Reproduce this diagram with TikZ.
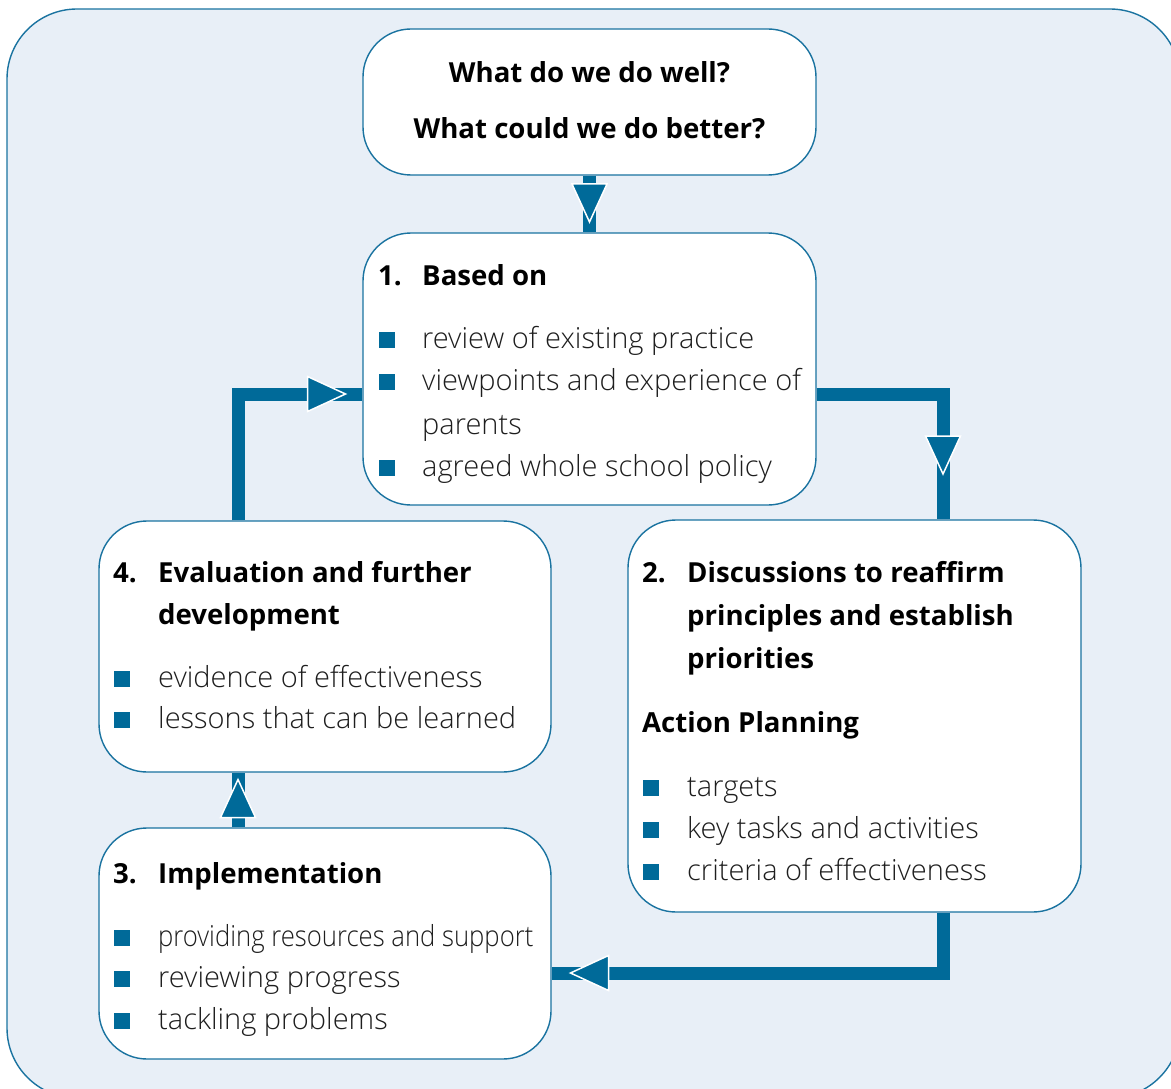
\documentclass[tikz,border=0pt]{standalone}
\usepackage{fontspec}
\setmainfont{Open Sans}
\newfontfamily\lightf{Open Sans Light}
\usetikzlibrary{calc}
\definecolor{dblue}{RGB}{0,106,153}
\definecolor{bgblue}{RGB}{232,239,247}
\definecolor{edgeblue}{RGB}{26,115,160}
\definecolor{txtgray}{RGB}{30,30,30}
\begin{document}
\begin{tikzpicture}[x=1pt,y=-1pt,
 outerbox/.style={draw=edgeblue, line width=1.4pt, fill=bgblue, rounded corners=70pt},
 box/.style={draw=edgeblue, line width=1.4pt, fill=white, rounded corners=48pt, inner sep=0},
 hd/.style={inner sep=0, anchor=base west, font=\fontsize{27.6}{34}\selectfont\bfseries},
 hdc/.style={inner sep=0, anchor=base, font=\fontsize{27.6}{34}\selectfont\bfseries},
 lt/.style={inner sep=0, anchor=base west, text=txtgray, font=\fontsize{29}{34}\selectfont\lightf},
 bul/.style={fill=dblue, minimum size=16.5pt, inner sep=0},
 conn/.style={draw=dblue, line width=13pt},
 tri/.style={fill=dblue, draw=white, line width=1.5pt, line join=miter},
 tdown/.pic={\path[tri] (-17.5,-19) -- (17.5,-19) -- (0,19) -- cycle;},
 tup/.pic={\path[tri] (-17.5,19) -- (17.5,19) -- (0,-19) -- cycle;},
 tright/.pic={\path[tri] (-19,-17.5) -- (-19,17.5) -- (19,0) -- cycle;},
 tleft/.pic={\path[tri] (19,-17.5) -- (19,17.5) -- (-19,0) -- cycle;},
]
\useasboundingbox (0,0) rectangle (1171,1089);
\path[outerbox] (7,9) rectangle (1180,1098);

% boxes
\node[box, minimum width=453pt, minimum height=146pt] (top) at (589.5,102) {};
\node[box, minimum width=453pt, minimum height=272pt] (b1) at (589.5,369) {};
\node[box, minimum width=452pt, minimum height=251pt] (b4) at (325,646.5) {};
\node[box, minimum width=453pt, minimum height=392pt] (b2) at (854.5,716) {};
\node[box, minimum width=452pt, minimum height=231pt] (b3) at (325,943.5) {};

% connector corners
\coordinate (p12) at (943,394);
\coordinate (p23) at (943,973);
\coordinate (p34) at (238,800);
\coordinate (p41) at (238,394);

\draw[conn] (top.south) -- (b1.north);
\draw[conn] (b1.east |- p12) -- (p12) -- (b2.north -| p12);
\draw[conn] (b2.south -| p23) -- (p23) -- (b3.east |- p23);
\draw[conn] (b3.north -| p34) -- (b4.south -| p34);
\draw[conn] (b4.north -| p41) -- (p41) -- (b1.west |- p41);

\pic (a1) at (589.5,203) {tdown};
\pic (a2) at (943,455) {tdown};
\pic (a3) at (589.5,973) {tleft};
\pic (a4) at (238,798.5) {tup};
\pic (a5) at (326.5,394) {tright};

% top box
\node[hdc] (q1) at (589.5,83) {What do we do well?};
\node[hdc] (q2) at (589.5,139) {What could we do better?};

% box 1
\node[hd] (n1) at (378,285) {1.};
\node[hd] (h1) at (422,285) {Based on};
\node[bul] (s1a) at (387,340) {};
\node[lt] (l1a) at (422,348) {review of existing practice};
\node[bul] (s1b) at (387,382) {};
\node[lt] (l1b) at (422,390) {viewpoints and experience of};
\node[lt] (l1c) at (422,434) {parents};
\node[bul] (s1d) at (387,468) {};
\node[lt] (l1d) at (422,476) {agreed whole school policy};

% box 4
\node[hd] (n4) at (113,582) {4.};
\node[hd] (h4a) at (158,582) {Evaluation and further};
\node[hd] (h4b) at (158,624) {development};
\node[bul] (s4a) at (122,679) {};
\node[lt] (l4a) at (158,687) {evidence of effectiveness};
\node[bul] (s4b) at (122,720) {};
\node[lt] (l4b) at (158,728) {lessons that can be learned};

% box 2
\node[hd] (n2) at (642,582) {2.};
\node[hd] (h2a) at (687,582) {Discussions to reaffirm};
\node[hd] (h2b) at (687,625) {principles and establish};
\node[hd] (h2c) at (687,668) {priorities};
\node[hd] (h2d) at (642,732) {Action Planning};
\node[bul] (s2a) at (651,788) {};
\node[lt] (l2a) at (687,796) {targets};
\node[bul] (s2b) at (651,830) {};
\node[lt] (l2b) at (687,838) {key tasks and activities};
\node[bul] (s2c) at (651,872) {};
\node[lt] (l2c) at (687,880) {criteria of effectiveness};

% box 3
\node[hd] (n3) at (113,883) {3.};
\node[hd] (h3) at (158,883) {Implementation};
\node[bul] (s3a) at (122,938) {};
\node[lt] (l3a) at (158,946) {\scalebox{0.885}[1]{providing resources and support}};
\node[bul] (s3b) at (122,979) {};
\node[lt] (l3b) at (158,987) {reviewing progress};
\node[bul] (s3c) at (122,1021) {};
\node[lt] (l3c) at (158,1029) {tackling problems};
\end{tikzpicture}
\end{document}
